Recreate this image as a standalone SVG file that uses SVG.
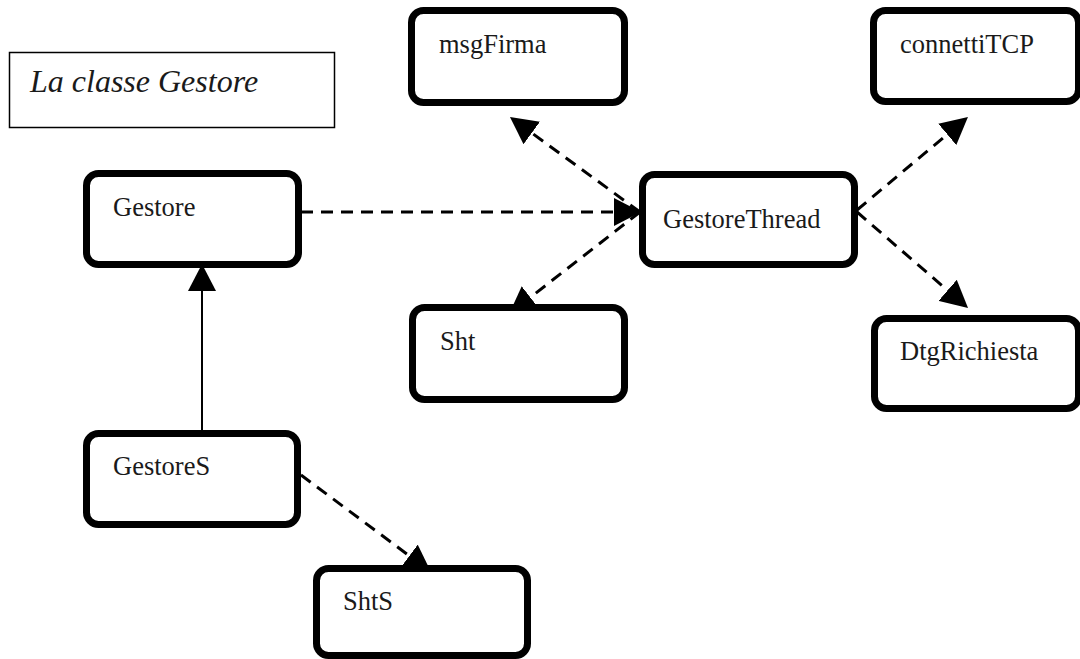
<svg xmlns="http://www.w3.org/2000/svg" width="1080" height="659" viewBox="0 0 1080 659">
  <style>
    .node rect { fill: #ffffff; stroke: #000000; stroke-width: 7; }
    .node text { font-size: 26.5px; fill: #1a1a1a; }
    .title rect { fill: #ffffff; stroke: #000000; stroke-width: 1.5; }
    .title text { font-size: 32px; font-style: italic; fill: #1a1a1a; }
    .dep { fill: none; stroke: #000000; stroke-width: 3; stroke-dasharray: 12 8; marker-end: url(#head); }
    .gen { fill: none; stroke: #000000; stroke-width: 2; marker-end: url(#head); }
  </style>
  <defs>
    <marker id="head" viewBox="0 0 27 28" refX="23" refY="14" markerWidth="27" markerHeight="28" markerUnits="userSpaceOnUse" orient="auto">
      <path d="M0,0 L27,14 L0,28 z" fill="#000000"/>
    </marker>
  </defs>

  <rect width="1080" height="659" fill="#ffffff"/>

  <g font-family="'Liberation Serif', 'Times New Roman', serif">
    <!-- caption -->
    <g id="title" class="title">
      <rect x="9.5" y="52.5" width="325" height="75"/>
      <text x="30" y="92">La classe Gestore</text>
    </g>

    <!-- connectors, drawn under the boxes -->
    <g id="connectors">
      <line class="dep" x1="301" y1="212" x2="637" y2="212"/>
      <line class="dep" x1="640" y1="212" x2="513.2" y2="119.4"/>
      <line class="dep" x1="640" y1="212" x2="512.2" y2="311.5"/>
      <line class="dep" x1="857" y1="210" x2="964.9" y2="119.6"/>
      <line class="dep" x1="857" y1="212" x2="965" y2="305.4"/>
      <line class="gen" x1="202" y1="430" x2="202" y2="268"/>
      <line class="dep" x1="301" y1="475" x2="427.8" y2="569.6"/>
    </g>

    <g id="msgFirma" class="node">
      <rect x="411.5" y="10.5" width="213" height="92" rx="12"/>
      <text x="439" y="53">msgFirma</text>
    </g>
    <g id="connettiTCP" class="node">
      <rect x="873.5" y="10.5" width="205" height="91" rx="12"/>
      <text x="900" y="53">connettiTCP</text>
    </g>
    <g id="Gestore" class="node">
      <rect x="86.5" y="173.5" width="212" height="91" rx="12"/>
      <text x="113" y="216">Gestore</text>
    </g>
    <g id="GestoreThread" class="node">
      <rect x="642.5" y="174.5" width="212" height="90" rx="12"/>
      <text x="663" y="228">GestoreThread</text>
    </g>
    <g id="Sht" class="node">
      <rect x="412.5" y="307.5" width="212" height="92" rx="12"/>
      <text x="440" y="350">Sht</text>
    </g>
    <g id="DtgRichiesta" class="node">
      <rect x="874.5" y="318.5" width="204" height="90" rx="12"/>
      <text x="900" y="360">DtgRichiesta</text>
    </g>
    <g id="GestoreS" class="node">
      <rect x="86.5" y="433.5" width="211" height="91" rx="12"/>
      <text x="113" y="475">GestoreS</text>
    </g>
    <g id="ShtS" class="node">
      <rect x="316.5" y="568.5" width="211" height="87" rx="12"/>
      <text x="343" y="610">ShtS</text>
    </g>
  </g>
</svg>
